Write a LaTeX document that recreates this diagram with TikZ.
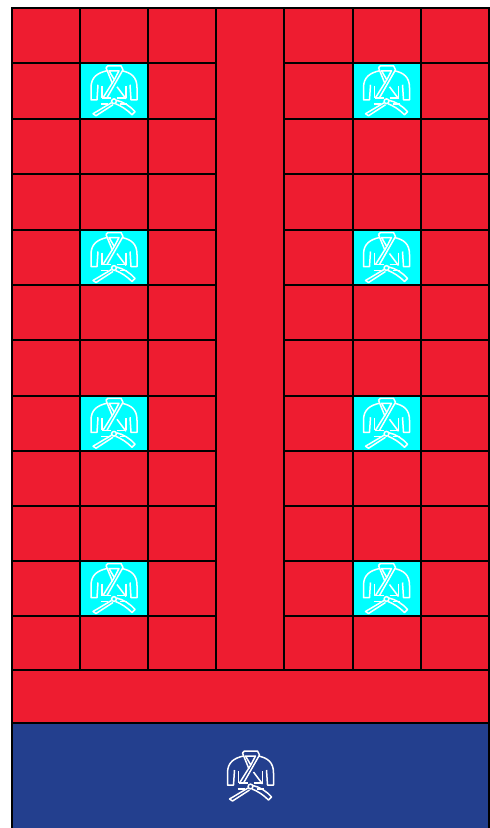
\documentclass[tikz,border=0pt]{standalone}
\definecolor{matred}{HTML}{EE1C30}
\definecolor{matcyan}{HTML}{00FFFF}
\definecolor{matblue}{HTML}{233F8E}
\tikzset{
  gi/.pic = {
    \begin{scope}[white, line width=1.5pt, line join=round, x=1pt, y=-1pt]
      % sleeves and body
      \draw (-7,-20) .. controls (-16,-18) and (-23,-14) .. (-23,-3) -- (-23,9) -- (-17,9) -- (-16,-6);
      \draw (8,-20) .. controls (17,-18) and (23,-14) .. (23,-3) -- (23,9) -- (17,9) -- (16,-6);
      \draw (-12,-5) -- (-12,7);
      \draw (12,-5) -- (12,7);
      % collar
      \draw (-8,-23) -- (-6,-25) -- (7,-25) -- (9,-21) -- (-7,7);
      \draw (5,-20) -- (-5,-20) -- (0.3,-11) -- cycle;
      \draw (0.3,-11) -- (-11,7);
      \draw (-8,-23) -- (-1.5,-7);
      \draw (3,-4) -- (12,8);
      % belt and ties
      \draw (-12,7) -- (-3,7);
      \draw (3,7) -- (12,7);
      \draw (-13,13) -- (-6,13);
      \draw (6,13) -- (13,13);
      \draw (0,10.5) circle (2.4);
      \draw (-2.5,12) -- (-21,23) -- (-18,25) -- (-1,14);
      \draw (2.5,9.5) .. controls (9,11) and (16,15) .. (21,21) -- (18,24) .. controls (13,19) and (7,15) .. (1.5,13);
    \end{scope}
  }
}
\begin{document}
\begin{tikzpicture}[
  x=1pt, y=-1pt,
  cell/.style = {draw=black, line width=2pt, fill=matred},
  mat/.style  = {draw=black, line width=2pt, fill=matcyan},
  zone/.style = {draw=black, line width=2pt, fill=matblue},
]
  \useasboundingbox (0,0) rectangle (490,828);

  % red cells either side of the centre column
  \foreach \ya/\yb in {7.5/63,63/118.5,118.5/174,174/230,230/285,285/340,340/396,396/450.5,450.5/506,506/561,561/616,616/670}
    \foreach \xa/\xb in {12/80,80/148,148/216,284/352.5,352.5/420.5,420.5/489}
      \draw[cell] (\xa,\ya) rectangle (\xb,\yb);

  % centre column, bottom bar, blue zone
  \draw[cell] (216,7.5) rectangle (284,670);
  \draw[cell] (12,670) rectangle (489,723);
  \draw[zone] (12,723) rectangle (489,830);

  % mats with a gi on them
  \foreach \ya/\yb in {63/118.5,230/285,396/450.5,561/616}
    \foreach \xa/\xb in {80/148,352.5/420.5} {
      \draw[mat] (\xa,\ya) rectangle (\xb,\yb);
      \pic at ({(\xa+\xb)/2},{(\ya+\yb)/2}) {gi};
    }
  \pic at (250.5,776) {gi};
\end{tikzpicture}
\end{document}
